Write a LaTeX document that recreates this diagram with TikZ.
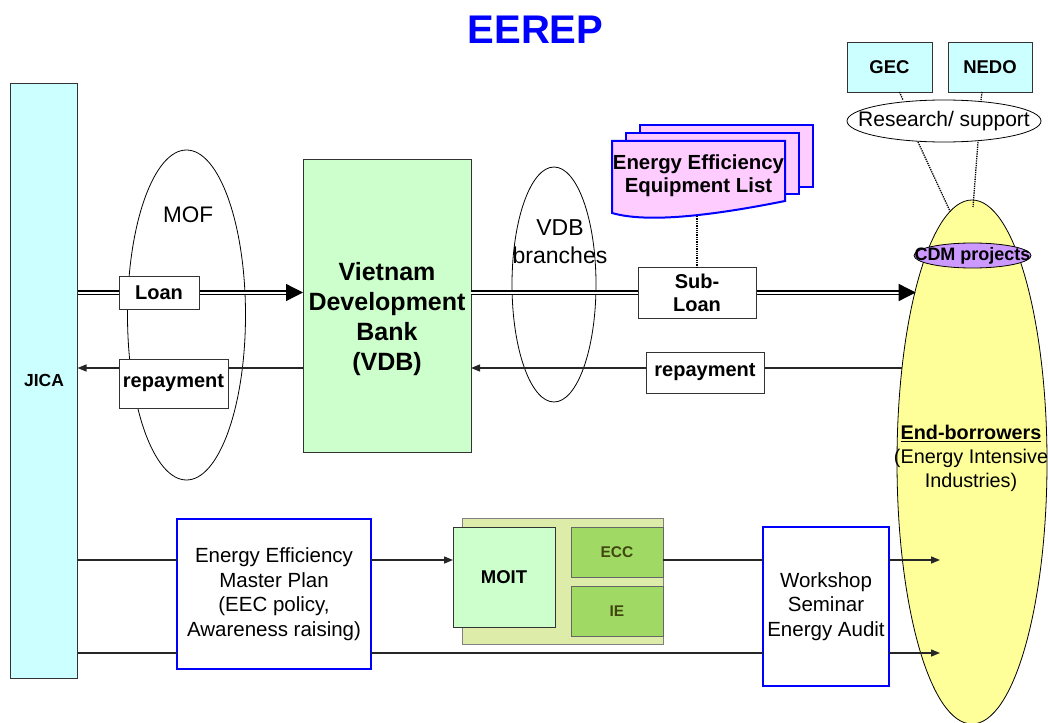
\documentclass[tikz,border=0pt]{standalone}
\usepackage{fontspec}
\setmainfont{Liberation Sans}
\usetikzlibrary{shapes.geometric,arrows.meta}

\definecolor{titleblue}{RGB}{0,0,255}
\definecolor{jicacyan}{RGB}{204,255,255}
\definecolor{vdbgreen}{RGB}{204,255,204}
\definecolor{docpink}{RGB}{255,204,255}
\definecolor{enduseryellow}{RGB}{255,255,153}
\definecolor{cdmpurple}{RGB}{204,153,255}
\definecolor{moitback}{RGB}{222,236,170}
\definecolor{eccgreen}{RGB}{160,218,100}
\definecolor{ecctext}{RGB}{64,72,16}

\begin{document}
\begin{tikzpicture}[
  x=1pt, y=-1pt,
  every node/.style={inner sep=0pt, outer sep=0pt},
  box/.style={rectangle, draw=black!80, line width=0.8pt},
  labelbox/.style={rectangle, draw=black!80, line width=0.8pt, fill=white, align=center, font=\bfseries\fontsize{20}{23}\selectfont},
  bluebox/.style={rectangle, draw=blue, line width=2pt, fill=white, align=center, font=\fontsize{20.5}{24.5}\selectfont},
  unitbox/.style={rectangle, draw=black!60, line width=0.6pt, fill=eccgreen, text=ecctext, minimum width=92pt, minimum height=50pt, font=\bfseries\fontsize{15.5}{18}\selectfont},
  oval/.style={ellipse, draw=black, line width=0.8pt},
  docpage/.style={draw=blue, line width=2pt, fill=docpink},
  flow/.style={line width=1.4pt, draw=black!85},
  loanflow/.style={double, double distance=2pt, line width=1.3pt, shorten >=15pt},
  bigtip/.style={line width=1.3pt, -{Triangle[length=17pt,width=17pt]}},
  smalltip/.style={-{Triangle[length=9pt,width=7pt]}},
  dotline/.style={densely dotted, line width=1.3pt}
]
  \useasboundingbox (0,0) rectangle (1048,722);

  % Title
  \node[font=\bfseries\fontsize{40}{48}\selectfont, text=titleblue] (title) at (535.5,29.5) {EEREP};

  % Lender and bank
  \node[box, fill=jicacyan, minimum width=67pt, minimum height=595pt, font=\bfseries\fontsize{17.5}{21}\selectfont] (jica) at (44,380.5) {JICA};
  \node[box, fill=vdbgreen, minimum width=168pt, minimum height=293pt] (vdb) at (387,305.5) {};
  \node[anchor=north, align=center, font=\bfseries\fontsize{25}{30}\selectfont] (vdbtext) at (387,262) {Vietnam\\Development\\Bank\\(VDB)};

  % Channels
  \node[oval, minimum width=118pt, minimum height=330pt] (mof) at (186.5,315) {};
  \node[font=\fontsize{22.5}{27}\selectfont] (moftext) at (188,215) {MOF};
  \node[oval, minimum width=84pt, minimum height=235pt] (branches) at (554,284.5) {};
  \node[anchor=north, align=center, font=\fontsize{23}{28}\selectfont] (branchtext) at (560,220) {VDB\\branches};

  % End-borrowers
  \node[oval, fill=enduseryellow, minimum width=150pt, minimum height=524pt] (enduser) at (972,462) {};
  \node[anchor=north, align=center, font=\fontsize{19.8}{24}\selectfont] (endtext) at (971,425) {\textbf{\underline{End-borrowers}}\\(Energy Intensive\\Industries)};
  \node[oval, fill=cdmpurple, minimum width=117pt, minimum height=25pt] (cdm) at (972.5,255.5) {};
  \node[font=\bfseries\fontsize{18}{21}\selectfont] (cdmtext) at (cdm) {CDM projects};

  % Research support
  \node[box, fill=jicacyan, minimum width=85pt, minimum height=50pt, font=\bfseries\fontsize{18.5}{22}\selectfont] (gec) at (889.5,67) {GEC};
  \node[box, fill=jicacyan, minimum width=84pt, minimum height=50pt, font=\bfseries\fontsize{18.5}{22}\selectfont] (nedo) at (990,67) {NEDO};
  \node[oval, fill=white, minimum width=194pt, minimum height=42pt] (research) at (944,121) {};
  \node[font=\fontsize{21}{25}\selectfont] (researchtext) at (research) {Research/ support};
  \draw[dotline] ([xshift=10pt]gec.south) -- ([xshift=-41pt]research.north);
  \draw[dotline] ([xshift=-8pt]nedo.south) -- ([xshift=37pt]research.north);
  \draw[dotline] ([xshift=-26pt]research.south) -- (enduser.95);
  \draw[dotline] ([xshift=34pt]research.south) -- ([xshift=1pt,yshift=-7pt]enduser.north);

  % Equipment list (stacked pages)
  \filldraw[docpage] (640,125) rectangle (813,187);
  \filldraw[docpage] (626,133) rectangle (799,194);
  \filldraw[docpage] (612,141) -- (785,141) -- (785,201) .. controls (720,214) and (650,224) .. (612,213) -- cycle;
  \node[anchor=north, align=center, font=\bfseries\fontsize{20.4}{23}\selectfont] (eelist) at (698.5,155) {Energy Efficiency\\Equipment List};
  \coordinate (docbot) at (697,216);

  % Loan and repayment flows
  \coordinate (loanrow) at (0,292.5);
  \coordinate (payrow) at (0,368);
  \coordinate (loanend) at (vdb.west |- loanrow);
  \coordinate (subend) at (enduser.108 |- loanrow);
  \draw[loanflow] (jica.east |- loanrow) -- (loanend);
  \draw[bigtip] ([xshift=-17pt]loanend) -- (loanend);
  \draw[loanflow] (vdb.east |- loanrow) -- (subend);
  \draw[bigtip] ([xshift=-17pt]subend) -- (subend);
  \draw[flow, smalltip] (vdb.west |- payrow) -- (jica.east |- payrow);
  \draw[flow, smalltip] (enduser.127 |- payrow) -- (vdb.east |- payrow);

  \node[labelbox, minimum width=80pt, minimum height=33pt] (loan) at (159,292.5) {Loan};
  \node[labelbox, minimum width=109pt, minimum height=49pt, text depth=0pt, text height=8pt] (repayleft) at (173.5,383.5) {repayment};
  \node[labelbox, minimum width=118pt, minimum height=51pt] (subloan) at (697,292.5) {Sub-\\Loan};
  \node[labelbox, minimum width=118pt, minimum height=41pt] (repayright) at (705,372.5) {repayment};
  \draw[dotline] (docbot) -- (subloan.north);

  % Technical assistance
  \node[bluebox, minimum width=194pt, minimum height=150pt] (plan) at (274,594) {Energy Efficiency\\Master Plan\\(EEC policy,\\Awareness raising)};
  \node[rectangle, draw=black!50, line width=0.6pt, fill=moitback, minimum width=201pt, minimum height=126pt] (moitgroup) at (562.5,581) {};
  \node[box, fill=vdbgreen, minimum width=102pt, minimum height=100pt, font=\bfseries\fontsize{18.5}{22}\selectfont] (moit) at (504,577) {MOIT};
  \node[unitbox] (ecc) at (617,552) {ECC};
  \node[unitbox] (ie) at (617,611) {IE};
  \node[bluebox, minimum width=126pt, minimum height=159pt] (shop) at (826,606.5) {Workshop\\Seminar\\Energy Audit};

  \coordinate (tipa) at (940,560);
  \coordinate (tipb) at (940,653);
  \draw[flow] (jica.east |- tipa) -- (plan.west |- tipa);
  \draw[flow, smalltip] (plan.east |- tipa) -- (moit.west |- tipa);
  \draw[flow] (ecc.east |- tipa) -- (shop.west |- tipa);
  \draw[flow, smalltip] (shop.east |- tipa) -- (tipa);
  \draw[flow] (jica.east |- tipb) -- (plan.west |- tipb);
  \draw[flow] (plan.east |- tipb) -- (shop.west |- tipb);
  \draw[flow, smalltip] (shop.east |- tipb) -- (tipb);

\end{tikzpicture}
\end{document}
